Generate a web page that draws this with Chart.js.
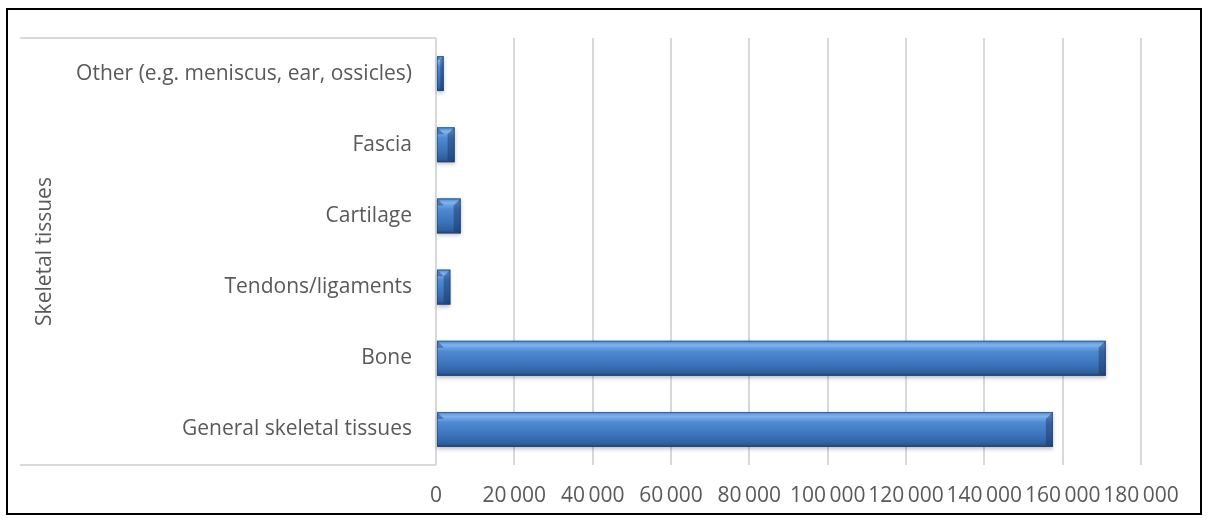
<!DOCTYPE html>
<html>
<head>
<meta charset="utf-8">
<script src="https://cdn.jsdelivr.net/npm/chart.js@4.4.1/dist/chart.umd.min.js"></script>
<style>
  html, body { margin: 0; padding: 0; background: #fff; }
  #wrap { position: relative; width: 1208px; height: 519px; }
  #frame { position: absolute; left: 6px; top: 8px; width: 1192px; height: 503px; border: 2px solid #000; pointer-events: none; }
</style>
</head>
<body>
<div id="wrap">
  <canvas id="chart" width="1208" height="519"></canvas>
  <div id="frame"></div>
</div>
<script>
const CATEGORIES = [
  'Other (e.g. meniscus, ear, ossicles)',
  'Fascia',
  'Cartilage',
  'Tendons/ligaments',
  'Bone',
  'General skeletal tissues'
];
const VALUES = [1950, 4750, 6300, 3650, 171000, 157500];
const AXIS_TITLE = 'Skeletal tissues';
const X_MAX = 180000;
const X_STEP = 20000;

const FONT = '"Open Sans", Lato, sans-serif';
const GREY = '#595959';
const GRID = '#d9d9d9';

const fmt = v => String(v).replace(/\B(?=(\d{3})+(?!\d))/g, '\u2009');

// category label box + bevelled bar look
const boxPlugin = {
  id: 'box',
  beforeDatasetsDraw(chart) {
    const { ctx, chartArea } = chart;
    ctx.save();
    ctx.strokeStyle = GRID;
    ctx.lineWidth = 2;
    ctx.beginPath();
    ctx.moveTo(20, chartArea.top);
    ctx.lineTo(chartArea.left, chartArea.top);
    ctx.moveTo(20, chartArea.bottom);
    ctx.lineTo(chartArea.left, chartArea.bottom);
    ctx.stroke();
    ctx.restore();
  },
  afterDatasetsDraw(chart) {
    const { ctx } = chart;
    const meta = chart.getDatasetMeta(0);
    ctx.save();
    meta.data.forEach(bar => {
      const x0 = bar.base, x1 = bar.x;
      const y0 = bar.y - bar.height / 2, y1 = bar.y + bar.height / 2;
      const g = ctx.createLinearGradient(0, y0, 0, y1);
      g.addColorStop(0, '#4a86cf');
      g.addColorStop(0.12, '#7fb4ec');
      g.addColorStop(0.3, '#4f8ad3');
      g.addColorStop(0.7, '#3a72b8');
      g.addColorStop(0.9, '#2f609f');
      g.addColorStop(1, '#23497c');
      ctx.shadowColor = 'rgba(0,0,0,0.25)';
      ctx.shadowBlur = 4;
      ctx.shadowOffsetY = 2;
      ctx.fillStyle = g;
      ctx.fillRect(x0, y0, x1 - x0, y1 - y0);
      ctx.shadowColor = 'transparent';
      // right end bevel
      const b = Math.min(7, (x1 - x0) / 2);
      ctx.fillStyle = 'rgba(20,50,100,0.45)';
      ctx.beginPath();
      ctx.moveTo(x1, y0);
      ctx.lineTo(x1 - b, y0 + b);
      ctx.lineTo(x1 - b, y1 - 2);
      ctx.lineTo(x1, y1);
      ctx.closePath();
      ctx.fill();
      // small top-left corner
      ctx.fillStyle = 'rgba(30,70,130,0.5)';
      ctx.beginPath();
      ctx.moveTo(x0, y0);
      ctx.lineTo(x0 + b, y0 + b);
      ctx.lineTo(x0, y0 + b);
      ctx.closePath();
      ctx.fill();
      ctx.strokeStyle = 'rgba(30,60,110,0.5)';
      ctx.lineWidth = 1;
      ctx.strokeRect(x0 + 0.5, y0 + 0.5, x1 - x0 - 1, y1 - y0 - 1);
    });
    ctx.restore();
  }
};

new Chart(document.getElementById('chart'), {
  type: 'bar',
  data: {
    labels: CATEGORIES,
    datasets: [{
      data: VALUES,
      backgroundColor: '#3d76bd',
      barPercentage: 0.49,
      categoryPercentage: 1
    }]
  },
  plugins: [boxPlugin],
  options: {
    indexAxis: 'y',
    responsive: false,
    animation: false,
    layout: { padding: { top: 38, right: 67, bottom: 10, left: 0 } },
    plugins: { legend: { display: false }, tooltip: { enabled: false } },
    scales: {
      x: {
        min: 0,
        max: X_MAX,
        ticks: {
          stepSize: X_STEP,
          padding: 18,
          color: GREY,
          maxRotation: 0,
          minRotation: 0,
          autoSkip: false,
          font: { family: FONT, size: 21 },
          callback: v => fmt(v)
        },
        grid: { color: GRID, lineWidth: 2, drawTicks: false },
        border: { display: false },
        afterFit: s => { s.height = 44; }
      },
      y: {
        ticks: {
          padding: 24,
          color: GREY,
          font: { family: FONT, size: 21 }
        },
        grid: { display: false, drawTicks: false },
        border: { display: false },
        title: {
          display: true,
          text: AXIS_TITLE,
          color: GREY,
          font: { family: FONT, size: 21 },
          padding: { top: 32, bottom: 0 }
        },
        afterFit: s => { s.width = 436; }
      }
    }
  }
});
</script>
</body>
</html>
